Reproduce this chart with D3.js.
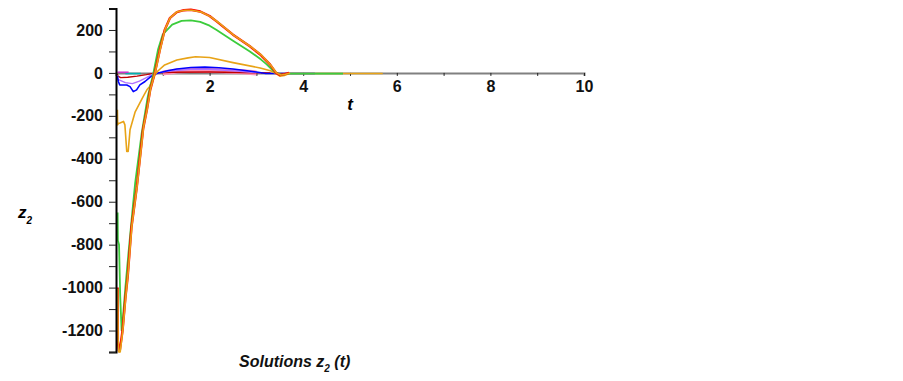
<!DOCTYPE html>
<html>
<head>
<meta charset="utf-8">
<script src="https://cdn.jsdelivr.net/npm/d3@7"></script>
<style>
  body { margin: 0; background: #fff; }
  svg { font-family: "Liberation Sans", Arial, sans-serif; }
  .tick text { font-size: 16px; font-weight: bold; fill: #111; }
</style>
</head>
<body>
<div id="chart"></div>
<script>
// values, [t, z2]
const redMain = [[0.035,-1000],[0.04,-1250],[0.06,-1295],[0.08,-1295],[0.14,-1200],[0.2,-1050],[0.25,-950],[0.33,-720],[0.44,-540],
  [0.58,-260],[0.66,-172],[0.73,-80],[0.83,0],[0.94,110],[1.04,200],[1.15,255],[1.3,283],[1.45,292],[1.6,294],[1.8,286],
  [2.0,265],[2.15,240],[2.5,178],[2.86,124],[3.1,82],[3.29,40],[3.42,0],[3.5,-10],[3.6,-6],[3.7,0]];
const orangeThick = [[0.035,-1005],[0.045,-1240],[0.06,-1300],[0.09,-1300],[0.15,-1190],[0.21,-1040],[0.26,-930],[0.34,-710],[0.45,-530],
  [0.59,-250],[0.67,-165],[0.74,-72],[0.84,5],[0.95,115],[1.05,205],[1.16,258],[1.31,285],[1.47,292],[1.62,292],[1.82,284],
  [2.02,262],[2.18,236],[2.52,175],[2.88,122],[3.12,80],[3.3,38],[3.43,0],[3.52,-10],[3.62,-6],[3.72,0]];
const greenMain = [[0.035,-650],[0.04,-780],[0.065,-800],[0.09,-1040],[0.12,-1200],[0.15,-1135],[0.2,-1000],[0.26,-855],[0.36,-623],
  [0.41,-512],[0.55,-279],[0.68,-110],[0.8,0],[0.9,110],[1.0,180],[1.2,225],[1.4,242],[1.6,245],[1.8,238],[2.0,220],
  [2.15,200],[2.5,150],[2.86,100],[3.1,62],[3.22,40],[3.35,12],[3.42,0],[3.55,-8],[3.7,-3],[4.85,-3]];
const orangeMid = [[0.03,-172],[0.035,-242],[0.05,-236],[0.085,-233],[0.16,-226],[0.19,-242],[0.23,-366],[0.26,-366],[0.3,-265],
  [0.41,-181],[0.58,-110],[0.66,-79],[0.72,-63],[0.83,-9],[0.9,10],[1.04,37],[1.3,60],[1.54,70],[1.7,75],[2.0,72],
  [2.5,48],[3.08,23],[3.3,10],[3.4,0],[3.5,-15],[3.6,-12],[3.7,-3],[5.7,-3]];
const blue = [[0.03,-15],[0.05,-40],[0.08,-56],[0.23,-56],[0.3,-64],[0.37,-87],[0.44,-79],[0.51,-56],[0.62,-40],[0.73,-20],
  [0.83,-6],[0.9,0],[1.1,10],[1.3,18],[1.6,25],[1.9,27],[2.2,24],[2.5,18],[2.8,10],[3.0,4],[3.2,-3],[4.25,-3]];
const lilac = [[0.03,-10],[0.04,-30],[0.2,-45],[0.35,-50],[0.5,-38],[0.65,-22],[0.8,-5],[0.9,0],[1.2,10],[1.6,17],[2.0,17],
  [2.5,10],[2.9,3],[3.1,0]];
const redThin = [[0.03,-5],[0.04,-15],[0.1,-22],[0.25,-20],[0.45,-15],[0.65,-8],[0.85,0],[1.2,3],[2.0,4],[3.0,1],[3.3,0]];
const pink = [[1.0,0],[1.3,9],[1.7,12],[2.2,10],[2.7,5],[3.0,0]];
const magenta = [[0.03,3],[0.27,3]];
const cyan = [[0.2,-3],[0.53,-3]];

const xTicks = [0, 1, 2, 3, 4, 5, 6, 7, 8, 9, 10];
const xLabels = [2, 4, 6, 8, 10];
const yTicks = [-1300, -1200, -1100, -1000, -900, -800, -700, -600, -500, -400, -300, -200, -100, 0, 100, 200, 300];
const yLabels = [-1200, -1000, -800, -600, -400, -200, 0, 200];

const W = 903, H = 381;
const svg = d3.select('#chart').append('svg').attr('width', W).attr('height', H);

const x = d3.scaleLinear().domain([0, 10]).range([116, 584]);
const y = d3.scaleLinear().domain([-1300, 300]).range([352, 8.5]);

// x axis (grey) on the zero line
const xAxis = svg.append('g')
  .attr('transform', `translate(0, ${y(0)})`)
  .call(d3.axisBottom(x).tickValues(xTicks).tickSize(3).tickPadding(5)
    .tickFormat(d => xLabels.includes(d) ? d : ''));
xAxis.select('.domain').attr('stroke', '#808080').attr('stroke-width', 2);
xAxis.selectAll('.tick line').attr('stroke', '#222');

const line = d3.line().x(d => x(d[0])).y(d => y(d[1]));

const series = [
  {data: pink, color: '#ff8fb4', w: 5},
  {data: redThin, color: '#c00000', w: 1.4},
  {data: lilac, color: '#b070ff', w: 1.4},
  {data: blue, color: '#0000ff', w: 1.6},
  {data: cyan, color: '#00b0b0', w: 1.6},
  {data: magenta, color: '#cc33cc', w: 1.6},
  {data: orangeMid, color: '#e8a317', w: 1.6},
  {data: greenMain, color: '#3ccc3c', w: 1.8},
  {data: redMain, color: '#ff0000', w: 2.4},
  {data: orangeThick, color: '#e8a317', w: 1.6}
];

svg.append('g').selectAll('path').data(series)
  .join('path')
  .attr('fill', 'none')
  .attr('stroke', d => d.color)
  .attr('stroke-width', d => d.w)
  .attr('stroke-linejoin', 'round')
  .attr('d', d => line(d.data));

// y axis (black)
const yAxis = svg.append('g')
  .attr('transform', `translate(${x(0)}, 0)`)
  .call(d3.axisLeft(y).tickValues(yTicks).tickSize(7).tickPadding(6)
    .tickFormat(d => yLabels.includes(d) ? String(d) : ''));
yAxis.select('.domain').attr('stroke', '#000').attr('stroke-width', 2);
yAxis.selectAll('.tick line').attr('stroke', '#222');

// axis titles
svg.append('text').attr('x', 350).attr('y', 110).attr('text-anchor', 'middle')
  .style('font', 'italic bold 17px "Liberation Sans", Arial, sans-serif').text('t');

const zLab = svg.append('text').attr('x', 18).attr('y', 218)
  .style('font', 'italic bold 17px "Liberation Sans", Arial, sans-serif');
zLab.append('tspan').text('z');
zLab.append('tspan').attr('dy', 6).style('font-size', '10px').text('2');

const title = svg.append('text').attr('x', 239).attr('y', 367)
  .style('font', 'italic bold 16px "Liberation Sans", Arial, sans-serif').attr('fill', '#111');
title.append('tspan').text('Solutions z');
title.append('tspan').attr('dy', 5).style('font-size', '10px').text('2');
title.append('tspan').attr('dy', -5).text(' (t)');
</script>
</body>
</html>
